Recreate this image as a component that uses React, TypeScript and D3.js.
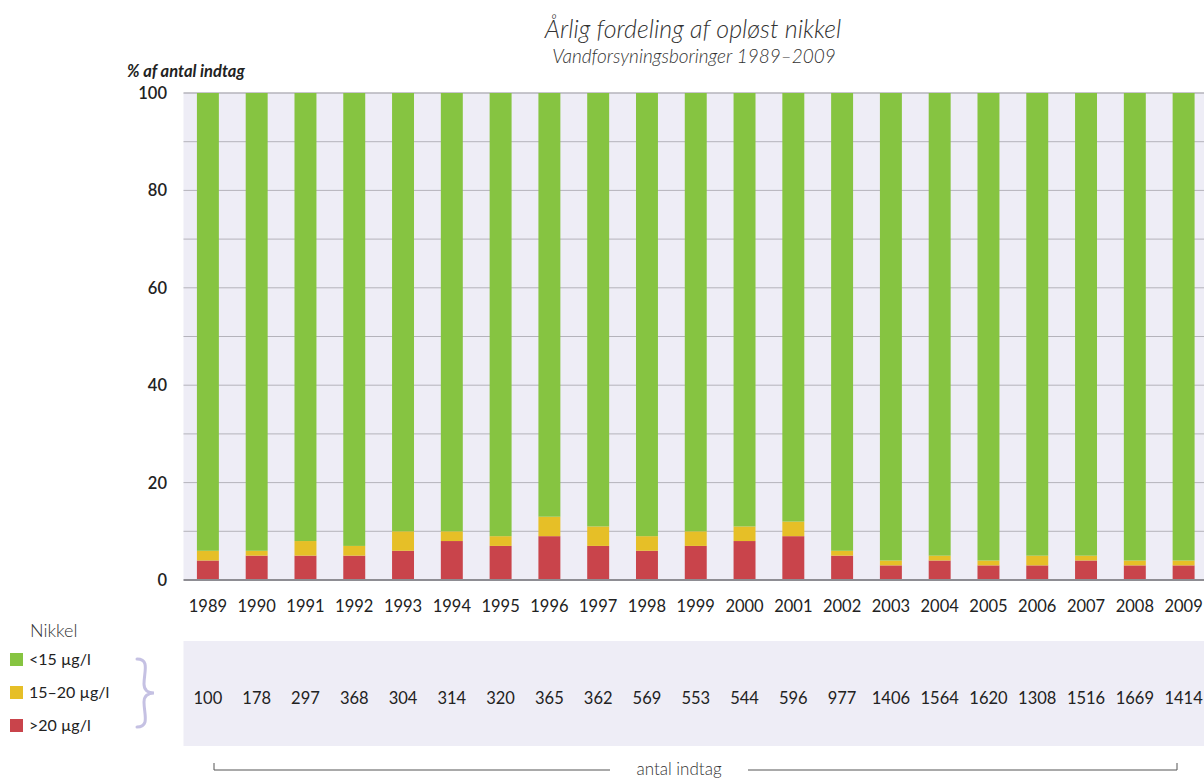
import React from 'react';
import * as d3 from 'd3';

const years = ['1989', '1990', '1991', '1992', '1993', '1994', '1995', '1996', '1997', '1998', '1999', '2000', '2001', '2002', '2003', '2004', '2005', '2006', '2007', '2008', '2009'];
const over20 = [4, 5, 5, 5, 6, 8, 7, 9, 7, 6, 7, 8, 9, 5, 3, 4, 3, 3, 4, 3, 3];
const mid15to20 = [2, 1, 3, 2, 4, 2, 2, 4, 4, 3, 3, 3, 3, 1, 1, 1, 1, 2, 1, 1, 1];
const under15 = years.map((_, i) => 100 - over20[i] - mid15to20[i]);
const antalIndtag = [100, 178, 297, 368, 304, 314, 320, 365, 362, 569, 553, 544, 596, 977, 1406, 1564, 1620, 1308, 1516, 1669, 1414];
const yTicks = [0, 20, 40, 60, 80, 100];
const gridTicks = d3.range(10, 100, 10);

const seriesKeys = ['over20', 'mid', 'under15'];
const seriesColors: Record<string, string> = { over20: '#c9444b', mid: '#e6bf27', under15: '#86c441' };
const legendItems = [
  { key: 'under15', label: '<15 µg/l' },
  { key: 'mid', label: '15–20 µg/l' },
  { key: 'over20', label: '>20 µg/l' },
];

const FONT = 'Lato, "Open Sans", sans-serif';

export default function App() {
  const width = 1204;
  const height = 780;
  const plot = { left: 183.5, right: 1208, top: 93, bottom: 580 };

  const x = d3.scaleBand().domain(years).range([plot.left, plot.right]).paddingInner(0.55).paddingOuter(0.275);
  const y = d3.scaleLinear().domain([0, 100]).range([plot.bottom, plot.top]);

  const rows = years.map((yr, i) => ({ year: yr, over20: over20[i], mid: mid15to20[i], under15: under15[i] }));
  const stacked = d3.stack<any>().keys(seriesKeys)(rows);

  return (
    <svg width={width} height={height} style={{ position: 'absolute', left: 0, top: 0 }} fontFamily={FONT}>
      <rect x={0} y={0} width={width} height={height} fill="#fff" />
      <text x={693} y={38} textAnchor="middle" fontStyle="italic" fontWeight={300} fontSize={25} fill="#333">Årlig fordeling af opløst nikkel</text>
      <text x={694} y={63} textAnchor="middle" fontStyle="italic" fontWeight={300} fontSize={19} fill="#333">Vandforsyningsboringer 1989–2009</text>
      <text x={127} y={77} fontStyle="italic" fontWeight={700} fontSize={16.5} fill="#222">% af antal indtag</text>

      <rect x={plot.left} y={plot.top} width={plot.right - plot.left} height={plot.bottom - plot.top} fill="#eeedf6" />
      {gridTicks.map(t => (
        <line key={t} x1={plot.left} x2={plot.right} y1={y(t)} y2={y(t)} stroke="#b4b3bb" strokeWidth={1} />
      ))}
      <line x1={plot.left} x2={plot.right} y1={y(100)} y2={y(100)} stroke="#b4b3bb" strokeWidth={1.5} />

      {stacked.map(s => (
        <g key={s.key} fill={seriesColors[s.key]}>
          {s.map((d, i) => (
            <rect key={i} x={x(d.data.year)} y={y(d[1])} width={x.bandwidth()} height={y(d[0]) - y(d[1])} />
          ))}
        </g>
      ))}
      <line x1={plot.left} x2={plot.right} y1={y(0)} y2={y(0)} stroke="#8e8d93" strokeWidth={2} />

      {yTicks.map(t => (
        <text key={t} x={167} y={y(t) + 6} textAnchor="end" fontSize={16.5} fontWeight={600} fill="#222">{t}</text>
      ))}
      {years.map(yr => (
        <text key={yr} x={(x(yr) as number) + x.bandwidth() / 2} y={612} textAnchor="middle" fontSize={16.5} fill="#222">{yr}</text>
      ))}

      <rect x={plot.left} y={641} width={plot.right - plot.left} height={105} fill="#eeedf6" />
      {antalIndtag.map((n, i) => (
        <text key={i} x={(x(years[i]) as number) + x.bandwidth() / 2} y={704} textAnchor="middle" fontSize={16.5} fill="#222">{n}</text>
      ))}

      <text x={30} y={637} fontSize={18} fontWeight={300} fill="#333">Nikkel</text>
      {legendItems.map((it, i) => (
        <g key={it.key} transform={`translate(10, ${653 + i * 33})`}>
          <rect x={0} y={0} width={13} height={13} fill={seriesColors[it.key]} />
          <text x={19} y={12} fontSize={16} fill="#222">{it.label}</text>
        </g>
      ))}
      <path d="M137,659 C150,659 144,672 144,684 C144,690 148,693 154,693 C148,693 144,696 144,702 C144,714 150,727 137,727"
        fill="none" stroke="#c5c1e3" strokeWidth={3} strokeLinecap="round" />

      <path d="M214,763 V770 H610" fill="none" stroke="#555" strokeWidth={1} />
      <path d="M748,770 H1177 V763" fill="none" stroke="#555" strokeWidth={1} />
      <text x={679} y={775} textAnchor="middle" fontSize={17} fontWeight={300} fill="#333">antal indtag</text>
    </svg>
  );
}
